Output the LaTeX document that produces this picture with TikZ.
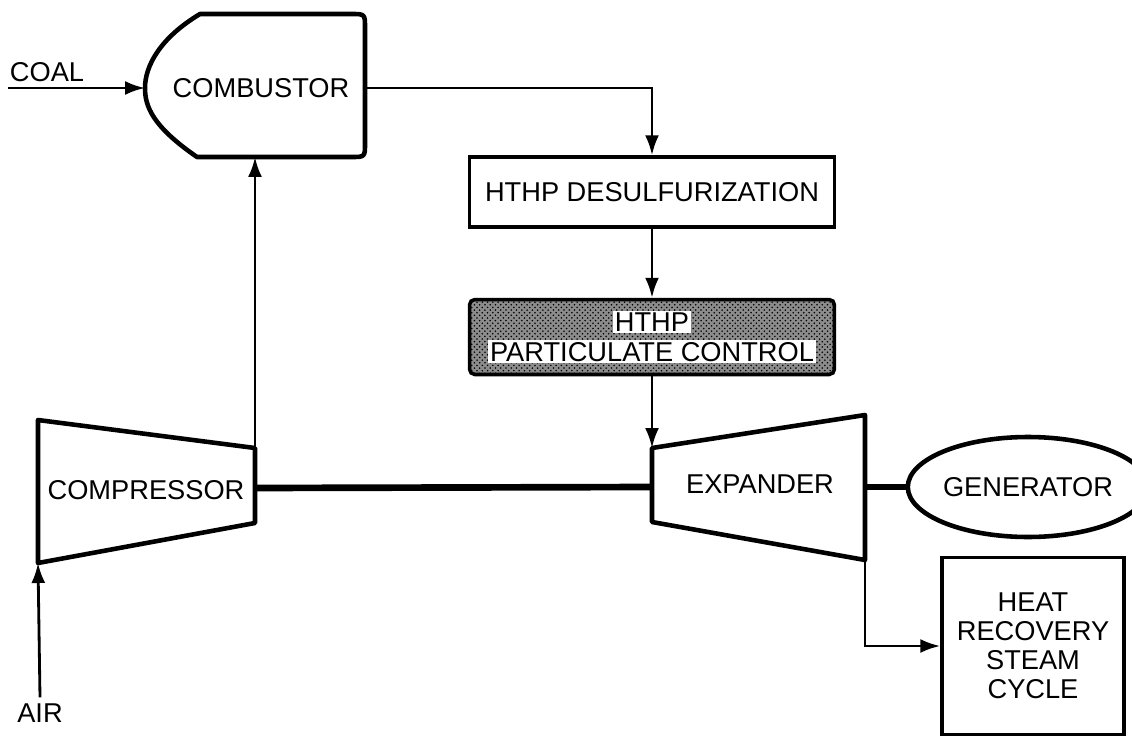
\documentclass[tikz,border=0pt]{standalone}
\usepackage{fontspec}
\setmainfont{Liberation Sans}
\usetikzlibrary{arrows.meta,positioning,shapes.geometric,patterns}

\begin{document}
\begin{tikzpicture}[x=0.02cm, y=-0.02cm,
    every node/.style={font=\fontsize{15.5}{18}\selectfont},
    unit/.style={draw, line width=2.6pt, line join=round},
    blk/.style={rectangle, draw, line width=2pt, inner sep=0pt},
    e/.style={-{Latex[length=4mm, width=2.8mm]}, line width=1.6pt},
    shaft/.style={line width=3.8pt},
  ]
  \useasboundingbox (0,0) rectangle (1132,737);
  % combustor
  \draw[unit] (200,14) -- (351,14) .. controls (365,14) .. (365,28)
    -- (365,143) .. controls (365,157) .. (351,157) -- (197,157)
    .. controls (152,126) and (145,106) .. (145,88)
    .. controls (145,66) and (160,38) .. (200,14) -- cycle;
  \node (comb) at (261,88) {COMBUSTOR};
  \coordinate (combW) at (145,88);
  \coordinate (combE) at (365,88);
  \coordinate (combS) at (255,157);
  \node (coal) at (47,72) {COAL};
  \coordinate (coalin) at (8,88);
  % cleanup train
  \node[blk, minimum width=7.3cm, minimum height=1.4cm] (desul) at (652,192) {HTHP DESULFURIZATION};
  \node[blk, minimum width=7.3cm, minimum height=1.5cm, rounded corners=3pt,
        preaction={fill=black!45}, pattern=crosshatch dots, pattern color=black,
        align=center, font=\fontsize{15.5}{17}\selectfont]
    (part) at (652,337) {\fboxsep=1pt\colorbox{white}{HTHP}\\\fboxsep=1pt\colorbox{white}{PARTICULATE CONTROL}};
  % compressor
  \draw[unit] (38,420) -- (255,448) -- (255,523) -- (38,563) -- cycle;
  \node (comp) at (146,490) {COMPRESSOR};
  \coordinate (compNE) at (255,448);
  \coordinate (compE) at (255,488);
  \coordinate (compSW) at (38,563);
  \node (air) at (40,713) {AIR};
  % expander
  \draw[unit] (652,448) -- (865,415) -- (865,560) -- (652,522) -- cycle;
  \node (exp) at (760,484) {EXPANDER};
  \coordinate (expNW) at (652,448);
  \coordinate (expW) at (652,487);
  \coordinate (expE) at (865,487);
  \coordinate (expSE) at (865,560);
  \node[ellipse, draw, line width=2.6pt, minimum width=3.8cm, minimum height=2cm, inner sep=0pt] (gen) at (1028,487) {GENERATOR};
  \node[blk, minimum width=3.64cm, minimum height=3.54cm, align=center,
        font=\fontsize{15.5}{16.5}\selectfont] (hrsc) at (1033,646) {HEAT\\RECOVERY\\STEAM\\CYCLE};
  % flows
  \draw[e] (coalin) -- (combW);
  \draw[e] (combE) -| (desul.north);
  \draw[e] (desul.south) -- (part.north);
  \draw[e] (part.south) -- (expNW);
  \draw[e] (compNE) -- (combS);
  \draw[e] (air.north) -- (compSW);
  \draw[e] (expSE) |- (hrsc.west);
  \draw[shaft] (compE) -- (expW);
  \draw[shaft] (expE) -- (gen.west);
\end{tikzpicture}
\end{document}
